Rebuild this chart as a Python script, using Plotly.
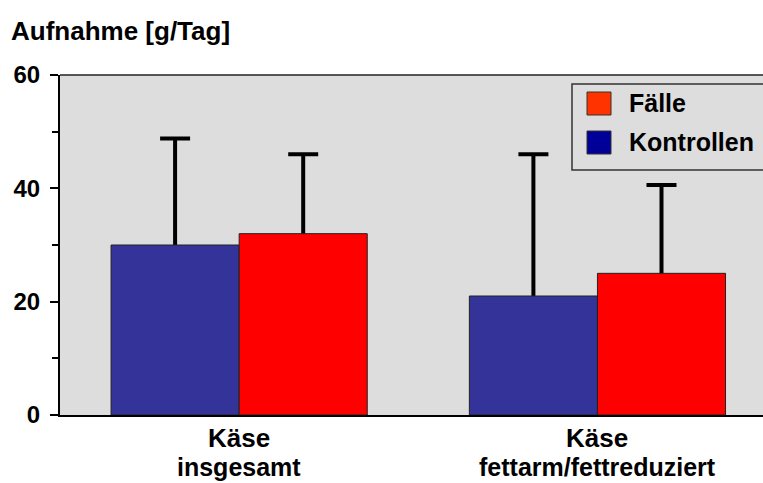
import plotly.graph_objects as go

# Daily intake of cheese, cases vs. controls (mean + SD)
cat_ids = ["gesamt", "fettarm"]
cat_line1 = ["Käse", "Käse"]
cat_line2 = ["insgesamt", "fettarm/fettreduziert"]
kontrollen_mean = [30, 21]
kontrollen_sd = [18.8, 25.0]
faelle_mean = [32, 25]
faelle_sd = [14.0, 15.6]
y_ticks = [0, 20, 40, 60]

FONT = "Arial, Liberation Sans, Helvetica, sans-serif"
W, H = 763, 483
ML, MT, MB = 60, 75, 68
PW, PH = W - ML, H - MT - MB

BLUE, RED = "#333399", "#FF0000"


def px(x):
    return (x - ML) / PW


def py(y):
    return (H - MB - y) / PH


fig = go.Figure()

# Error whiskers sit on hidden bars underneath, so only the part above each bar shows
for name, mean, sd, grp in [("Kontrollen", kontrollen_mean, kontrollen_sd, "k"),
                            ("Fälle", faelle_mean, faelle_sd, "f")]:
    fig.add_trace(go.Bar(
        x=cat_ids, y=mean, offsetgroup=grp, showlegend=False, hoverinfo="skip",
        marker=dict(color="rgba(0,0,0,0)", line=dict(width=0)),
        error_y=dict(type="data", symmetric=False, array=sd,
                     arrayminus=[m + 10 for m in mean],
                     color="black", thickness=4, width=15),
    ))

fig.add_trace(go.Bar(
    x=cat_ids, y=kontrollen_mean, name="Kontrollen", offsetgroup="k",
    marker=dict(color=BLUE, line=dict(color="#222222", width=1)),
    showlegend=False,
))
fig.add_trace(go.Bar(
    x=cat_ids, y=faelle_mean, name="Fälle", offsetgroup="f",
    marker=dict(color=RED, line=dict(color="#222222", width=1)),
    showlegend=False,
))

shapes = [
    # top frame line of the plot area
    dict(type="line", xref="paper", yref="paper", x0=0, x1=1, y0=1, y1=1,
         line=dict(color="#222222", width=1.5)),
    # legend box drawn by hand
    dict(type="rect", xref="paper", yref="paper",
         x0=px(572), x1=px(790), y0=py(170), y1=py(84),
         fillcolor="#DDDDDD", line=dict(color="#333333", width=1.5), layer="above"),
    dict(type="rect", xref="paper", yref="paper",
         x0=px(587), x1=px(611), y0=py(115), y1=py(92),
         fillcolor="#FF3300", line=dict(color="#333333", width=1), layer="above"),
    dict(type="rect", xref="paper", yref="paper",
         x0=px(587), x1=px(611), y0=py(154), y1=py(131),
         fillcolor="#000099", line=dict(color="#333333", width=1), layer="above"),
]

txt = dict(family=FONT, color="black")
annotations = [
    dict(text="<b>Aufnahme [g/Tag]</b>", xref="paper", yref="paper",
         x=px(9), y=py(31), xanchor="left", yanchor="middle", showarrow=False,
         font=dict(size=26, **txt)),
    dict(text="<b>Fälle</b>", xref="paper", yref="paper",
         x=px(627), y=py(103), xanchor="left", yanchor="middle", showarrow=False,
         font=dict(size=25, **txt)),
    dict(text="<b>Kontrollen</b>", xref="paper", yref="paper",
         x=px(627), y=py(142), xanchor="left", yanchor="middle", showarrow=False,
         font=dict(size=25, **txt)),
]
# two-line category labels under the axis
for cid, l1, l2 in zip(cat_ids, cat_line1, cat_line2):
    annotations.append(dict(text=f"<b>{l1}</b>", xref="x", yref="paper", x=cid, y=py(438),
                            xanchor="center", yanchor="middle", showarrow=False,
                            font=dict(size=26, **txt)))
    annotations.append(dict(text=f"<b>{l2}</b>", xref="x", yref="paper", x=cid, y=py(467),
                            xanchor="center", yanchor="middle", showarrow=False,
                            font=dict(size=25, **txt)))

fig.update_layout(
    width=W, height=H,
    margin=dict(l=ML, r=0, t=MT, b=MB, pad=0),
    paper_bgcolor="white", plot_bgcolor="#DDDDDD",
    barmode="group", bargap=0.285, bargroupgap=0,
    shapes=shapes, annotations=annotations,
    font=dict(family=FONT, color="black"),
    xaxis=dict(
        range=[-0.5, -0.5 + PW / 358.3],
        showgrid=False, zeroline=False,
        showline=True, linecolor="black", linewidth=2,
        ticks="", showticklabels=False,
    ),
    yaxis=dict(
        range=[0, 60], tickvals=y_ticks,
        showgrid=False, zeroline=False,
        showline=True, linecolor="black", linewidth=2,
        ticks="outside", ticklen=8, tickwidth=2, tickcolor="black",
        ticklabelstandoff=5,
        tickfont=dict(size=24, weight="bold", **txt),
        minor=dict(dtick=10, ticks="outside", ticklen=6, tickwidth=2, tickcolor="black"),
    ),
)

fig.write_html("out.html")
